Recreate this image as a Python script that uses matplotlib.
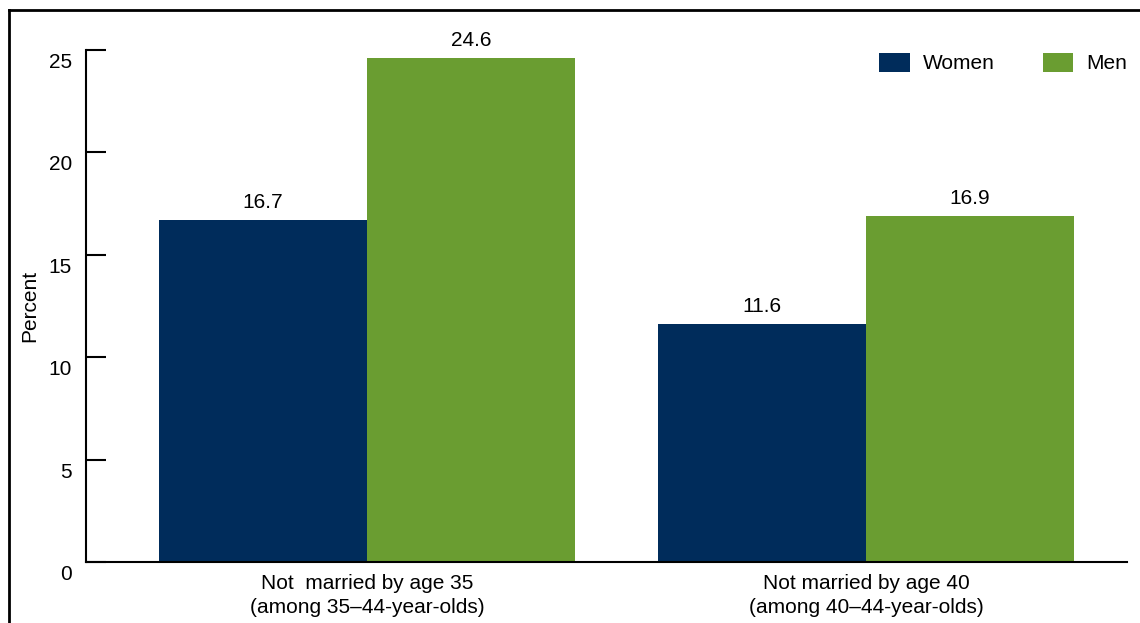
import matplotlib
matplotlib.use("Agg")
import matplotlib.pyplot as plt
import matplotlib.transforms as mtransforms
from matplotlib.lines import Line2D
import numpy as np

plt.rcParams["font.family"] = ["Liberation Sans", "DejaVu Sans"]

# data
categories = ["Not  married by age 35\n(among 35\u201344-year-olds)",
              "Not married by age 40\n(among 40\u201344-year-olds)"]
series_names = ["Women", "Men"]
women = [16.7, 11.6]
men = [24.6, 16.9]
yticks = [0, 5, 10, 15, 20, 25]

colors = ["#002C5B", "#6A9D31"]

W, H = 1140, 623
fig = plt.figure(figsize=(W / 100, H / 100), dpi=100)
ax = fig.add_axes([86 / W, 61 / H, (1127 - 86) / W, 512 / H])

x = np.arange(len(categories))
bw = 0.417
bars_w = ax.bar(x - bw / 2, women, width=bw, color=colors[0], label=series_names[0])
bars_m = ax.bar(x + bw / 2, men, width=bw, color=colors[1], label=series_names[1])

for bars in (bars_w, bars_m):
    for b in bars:
        ax.annotate(f"{b.get_height():.1f}", (b.get_x() + b.get_width() / 2, b.get_height()),
                    xytext=(0, 6), textcoords="offset points",
                    ha="center", va="bottom", fontsize=15)

ax.set_xlim(-0.563, 1.523)
ax.set_ylim(0, 25)
ax.set_yticks(yticks)
ax.set_yticklabels([str(t) for t in yticks])
ax.set_xticks(x)
ax.set_xticklabels(categories, fontsize=15, linespacing=1.35)

ax.tick_params(axis="y", direction="in", length=14.4, width=1.5, pad=10, labelsize=15)
ax.tick_params(axis="x", length=0, pad=8.5)

# tick labels sit a bit below their ticks in the original
shift = mtransforms.ScaledTranslation(0, -10.5 / 100, fig.dpi_scale_trans)
for lbl in ax.get_yticklabels():
    lbl.set_transform(lbl.get_transform() + shift)

for s in ("top", "right"):
    ax.spines[s].set_visible(False)
for s in ("left", "bottom"):
    ax.spines[s].set_linewidth(1.5)

ax.set_ylabel("Percent", fontsize=15, labelpad=7)

ax.legend(loc="center left", bbox_to_anchor=(879 / W, 1 - 63 / H),
          bbox_transform=fig.transFigure, ncol=2, frameon=False,
          fontsize=15, borderpad=0, borderaxespad=0,
          handlelength=1.48, handleheight=1.05, handletextpad=0.62,
          columnspacing=2.3)

# outer frame of the original figure (cropped)
fig.add_artist(Line2D([8.5 / W, 8.5 / W], [-0.1, 1 - 10 / H], transform=fig.transFigure,
                      color="black", linewidth=2, solid_capstyle="projecting"))
fig.add_artist(Line2D([8.5 / W, 1.1], [1 - 10 / H, 1 - 10 / H], transform=fig.transFigure,
                      color="black", linewidth=2, solid_capstyle="projecting"))

fig.savefig("out.png", dpi=100)
